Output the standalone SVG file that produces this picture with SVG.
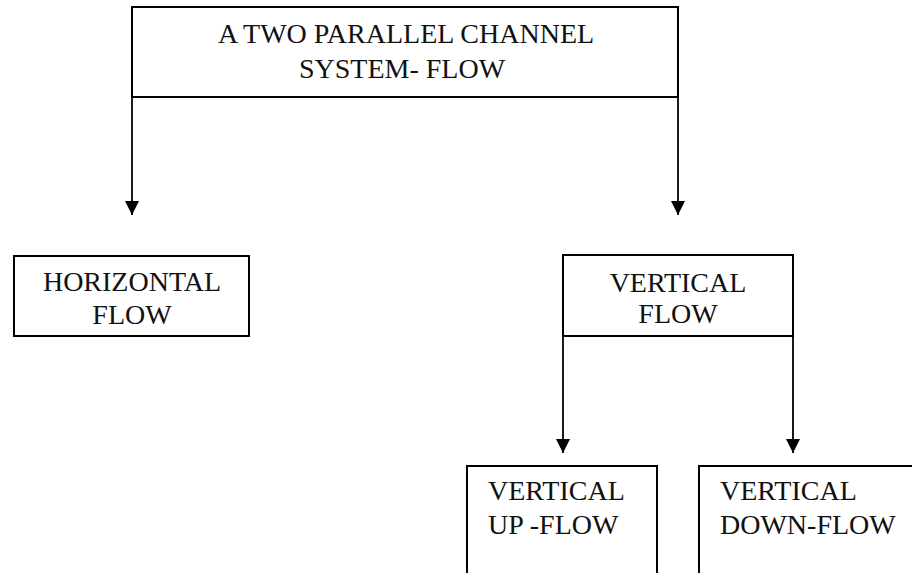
<svg xmlns="http://www.w3.org/2000/svg" width="912" height="573" viewBox="0 0 912 573">
  <style>
    .box { fill: #ffffff; stroke: #000000; stroke-width: 2; }
    .edge { fill: none; stroke: #000000; stroke-width: 1.8; }
    .lbl { font-family: 'Liberation Serif', 'Times New Roman', 'DejaVu Serif', serif; font-size: 28px; fill: #111111; }
    .mid { text-anchor: middle; }
  </style>
  <defs>
    <marker id="arrow" viewBox="0 0 14 14" refX="14" refY="7" markerWidth="14" markerHeight="14" markerUnits="userSpaceOnUse" orient="auto">
      <path d="M0,0 L14,7 L0,14 Z" fill="#000000"/>
    </marker>
  </defs>
  <rect width="912" height="573" fill="#ffffff"/>

  <g id="connectors">
    <path class="edge" d="M132,97 V215" marker-end="url(#arrow)"/>
    <path class="edge" d="M678,97 V215" marker-end="url(#arrow)"/>
    <path class="edge" d="M563,336 V453" marker-end="url(#arrow)"/>
    <path class="edge" d="M793,336 V453" marker-end="url(#arrow)"/>
  </g>

  <g id="system">
    <rect class="box" x="132" y="7" width="546" height="90"/>
    <text class="lbl mid" x="406" y="43">A TWO PARALLEL CHANNEL</text>
    <text class="lbl mid" x="402" y="78">SYSTEM- FLOW</text>
  </g>

  <g id="horizontal">
    <rect class="box" x="14" y="256" width="235" height="80"/>
    <text class="lbl mid" x="132" y="291">HORIZONTAL</text>
    <text class="lbl mid" x="132" y="324">FLOW</text>
  </g>

  <g id="vertical">
    <rect class="box" x="563" y="255" width="230" height="81"/>
    <text class="lbl mid" x="678" y="292">VERTICAL</text>
    <text class="lbl mid" x="678" y="323">FLOW</text>
  </g>

  <g id="upflow">
    <rect class="box" x="467" y="466" width="190" height="130"/>
    <text class="lbl" x="488" y="500">VERTICAL</text>
    <text class="lbl" x="488" y="534">UP -FLOW</text>
  </g>

  <g id="downflow">
    <rect class="box" x="699" y="466" width="240" height="130"/>
    <text class="lbl" x="720" y="500">VERTICAL</text>
    <text class="lbl" x="720" y="534">DOWN-FLOW</text>
  </g>
</svg>
